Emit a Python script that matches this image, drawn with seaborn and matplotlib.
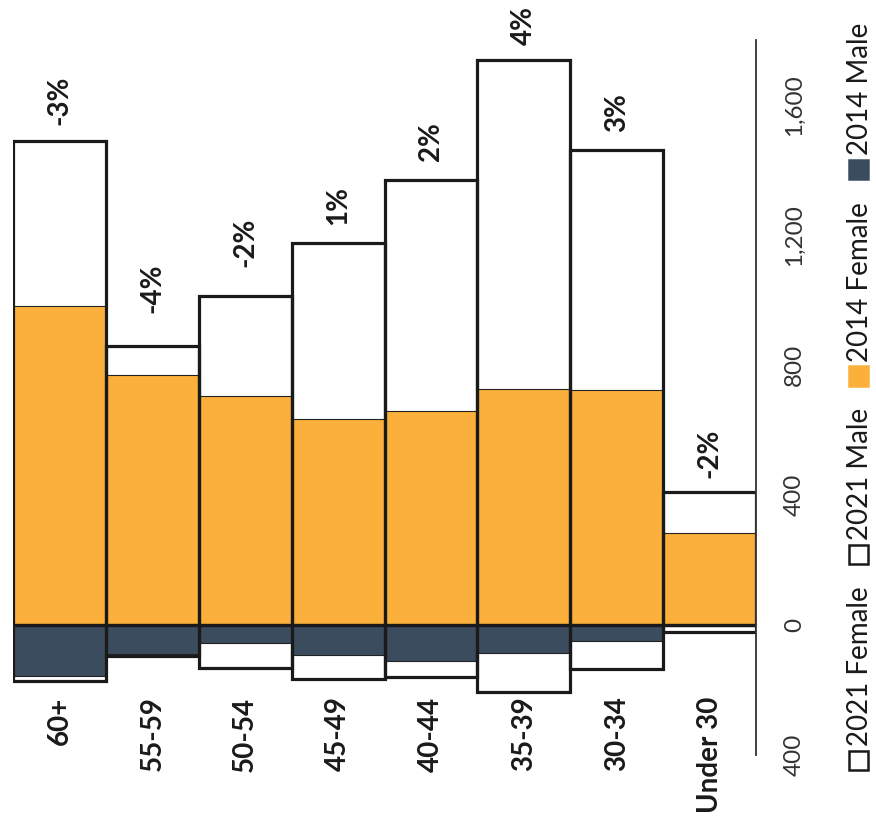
import matplotlib
matplotlib.use("Agg")
import matplotlib.pyplot as plt
from matplotlib.patches import Rectangle
from matplotlib.ticker import FuncFormatter
import seaborn as sns
import pandas as pd

# Age bands and headcounts per year / sex
age_groups = ["60+", "55-59", "50-54", "45-49", "40-44", "35-39", "30-34", "Under 30"]
female_2021 = [1490, 858, 1012, 1175, 1369, 1738, 1462, 409]
female_2014 = [982, 769, 705, 634, 658, 726, 723, 283]
male_2021 = [172, 95, 132, 166, 160, 206, 135, 20]
male_2014 = [157, 90, 55, 92, 111, 86, 49, 3]
change_labels = ["-3%", "-4%", "-2%", "1%", "2%", "4%", "3%", "-2%"]

value_ticks = [-400, 0, 400, 800, 1200, 1600]
legend_items = [("2021 Female", "white"), ("2021 Male", "white"),
                ("2014 Female", "#FBB03B"), ("2014 Male", "#3B4C5E")]

ORANGE = "#FBB03B"
SLATE = "#3B4C5E"

sns.set_theme(style="white")
plt.rcParams["font.family"] = ["Lato", "DejaVu Sans"]

df = pd.DataFrame({
    "age": age_groups,
    "f21": female_2021,
    "f14": female_2014,
    "m21": [-v for v in male_2021],
    "m14": [-v for v in male_2014],
})

fig = plt.figure(figsize=(8.76, 8.24), dpi=100)
ax = fig.add_axes([13 / 876, 69 / 824, 743 / 876, 715 / 824])

common = dict(x="age", order=age_groups, width=1.0, errorbar=None, ax=ax)

# 2021 bars: white fill underneath
sns.barplot(data=df, y="f21", color="white", edgecolor="none", linewidth=0, **common)
sns.barplot(data=df, y="m21", color="white", edgecolor="none", linewidth=0, **common)
# 2014 bars on top
sns.barplot(data=df, y="f14", color=ORANGE, edgecolor="#222222", linewidth=0.8,
            saturation=1, **common)
sns.barplot(data=df, y="m14", color=SLATE, edgecolor="#222222", linewidth=0.8,
            saturation=1, **common)
# 2021 outlines drawn last
sns.barplot(data=df, y="f21", fill=False, color="#1a1a1a", linewidth=2.3, **common)
sns.barplot(data=df, y="m21", fill=False, color="#1a1a1a", linewidth=2.3, **common)

ax.set_xlim(-0.5, 7.5)
ax.set_ylim(-400, 1800)
ax.set_xlabel("")
ax.set_ylabel("")

# change labels above the 2021 female bars (gap in points per bar)
label_gaps = [11, 24, 21, 13, 14, 11, 13, 10]
for i, (v, lab) in enumerate(zip(female_2021, change_labels)):
    ax.annotate(lab, (i, v), xytext=(0, label_gaps[i]), textcoords="offset points",
                rotation=90, ha="center", va="bottom", fontsize=20,
                fontweight="bold", color="#1a1a1a")

# age band labels
ax.set_xticks([])
for i, lab in enumerate(age_groups):
    ax.text(i, -220, lab, rotation=90, ha="center", va="top", fontsize=20,
            fontweight="bold", color="#1a1a1a")

# value axis on the right
ax.yaxis.tick_right()
ax.set_yticks(value_ticks)
ax.yaxis.set_major_formatter(FuncFormatter(lambda v, p: f"{abs(int(v)):,}"))
ax.tick_params(axis="y", length=0, pad=20, labelsize=17.5, labelcolor="#333333")
for t in ax.get_yticklabels():
    t.set_rotation(90)
    t.set_va("center")

for side in ["left", "top", "bottom"]:
    ax.spines[side].set_visible(False)
ax.spines["right"].set_color("#333333")
ax.spines["right"].set_linewidth(1.3)
ax.grid(False)

# legend, written bottom-to-top along the right edge, entries spread evenly
renderer = fig.canvas.get_renderer()
px = fig.dpi_scale_trans
x_sq, sq, sq_gap = 849, 19, 5
y_start, y_end = 54, 801
texts = []
for label, col in legend_items:
    t = fig.text((x_sq + sq / 2 + 1) / 100, 0, label, transform=px,
                 rotation=90, ha="center", va="bottom", fontsize=20,
                 color="#1a1a1a")
    texts.append(t)
heights = [t.get_window_extent(renderer).height for t in texts]
used = sum(heights) + len(legend_items) * (sq + sq_gap)
entry_gap = max(4, (y_end - y_start - used) / (len(legend_items) - 1))

y = y_start
for (label, col), t, h in zip(legend_items, texts, heights):
    fig.patches.append(Rectangle((x_sq / 100, y / 100), sq / 100, sq / 100,
                                 transform=px, facecolor=col,
                                 edgecolor="#1a1a1a" if col == "white" else col,
                                 linewidth=1.8))
    y += sq + sq_gap
    t.set_y(y / 100)
    y += h + entry_gap

fig.savefig("out.png", dpi=100)
